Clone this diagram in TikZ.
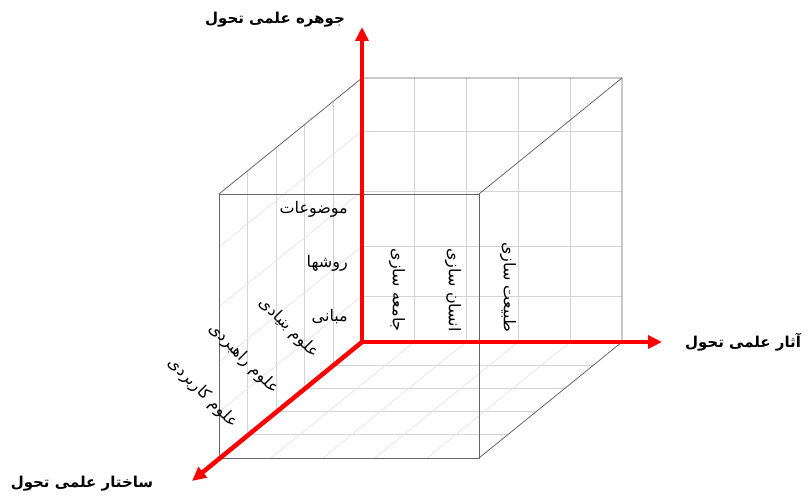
\documentclass[tikz,border=0pt]{standalone}
\usepackage{fontspec}
\newfontfamily\farsi[Script=Arabic]{DejaVu Sans}
\TeXXeTstate=1
\usetikzlibrary{arrows.meta}

\begin{document}
\begin{tikzpicture}[
    x=1pt, y=-1pt,
    edge/.style={draw=black!60, line width=0.8pt},
    gridline/.style={draw=black!17, line width=0.8pt},
    diagline/.style={draw=black!10, line width=0.8pt},
    axis/.style={-{Triangle[length=14pt, width=13pt]}, draw=red, line width=4.5pt},
    title/.style={font=\farsi\bfseries\fontsize{15}{18}\selectfont},
    lbl/.style={font=\farsi\fontsize{16}{19}\selectfont, inner sep=1pt}
]
\useasboundingbox (0,0) rectangle (811,497);

% cube corners
\coordinate (ftl) at (219,194);
\coordinate (ftr) at (479,194);
\coordinate (fbr) at (479,458);
\coordinate (fbl) at (219,458);
\coordinate (btl) at (362,78);
\coordinate (btr) at (622,78);
\coordinate (bbr) at (622,342);
\coordinate (o) at (362,342);

% grid on back, left and bottom faces
\foreach \x in {414,466,518,570}
    \draw[gridline] (\x,78) -- (\x,342);
\foreach \y in {131,191,246,296}
    \draw[gridline] (362,\y) -- (622,\y);
\foreach \k in {1,...,4}
    \draw[gridline] ({219+28.6*\k},{194-23.2*\k}) -- ({219+28.6*\k},{458-23.2*\k});
\foreach \k in {1,...,4}
    \draw[gridline] ({219+28.6*\k},{458-23.2*\k}) -- ({479+28.6*\k},{458-23.2*\k});
\foreach \y in {131,191,246,296}
    \draw[diagline] (362,\y) -- (219,\y+116);
\foreach \i in {1,...,4}
    \draw[diagline] ({219+52*\i},458) -- ({362+52*\i},342);

% cube edges
\draw[edge] (ftl) rectangle (fbr);
\draw[edge] (ftl) -- (btl) -- (btr) -- (bbr) -- (fbr);
\draw[edge] (btr) -- (ftr);
\draw[edge] (btl) -- (o) -- (bbr);
\draw[edge] (o) -- (fbl);

% axes
\coordinate (up) at (362,27);
\coordinate (rt) at (662,342);
\coordinate (dn) at (192,481);
\draw[axis] (o) -- (up);
\draw[axis] (o) -- (rt);
\draw[axis] (o) -- (dn);

\node[title] (jowhar) at (275,20) {\beginR جوهره علمی تحول\endR};
\node[title] (asar) at (743,342) {\beginR آثار علمی تحول\endR};
\node[title] (sakhtar) at (82,484) {\beginR ساختار علمی تحول\endR};

\node[lbl, anchor=east] (mozu) at (349,209) {\beginR موضوعات\endR};
\node[lbl, anchor=east] (ravesh) at (349,263) {\beginR روشها\endR};
\node[lbl, anchor=east] (mabani) at (349,317) {\beginR مبانی\endR};

\node[lbl, rotate=-45, anchor=east] (bonyadi) at (317,356) {\beginR علوم بنیادی\endR};
\node[lbl, rotate=-45, anchor=east] (rahbordi) at (277,392) {\beginR علوم راهبردی\endR};
\node[lbl, rotate=-45, anchor=east] (karbordi) at (236,426) {\beginR علوم کاربردی\endR};

\node[lbl, rotate=-90, anchor=east] (jameh) at (397,333) {\beginR جامعه سازی\endR};
\node[lbl, rotate=-90, anchor=east] (ensan) at (453,333) {\beginR انسان سازی\endR};
\node[lbl, rotate=-90, anchor=east] (tabiat) at (508,333) {\beginR طبیعت سازی\endR};
\end{tikzpicture}
\end{document}
